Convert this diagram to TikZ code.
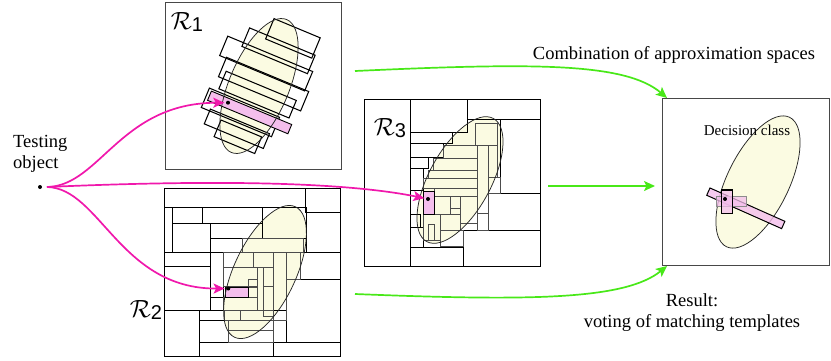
\documentclass[tikz,border=0pt]{standalone}
\usepackage{fontspec}
\setmainfont{Liberation Serif}
\newfontfamily\serif{Liberation Serif}
\newfontfamily\arialfam{Liberation Sans}
\usetikzlibrary{arrows.meta}
\definecolor{ylw}{RGB}{251,251,226}
\definecolor{pnk}{RGB}{244,190,236}
\definecolor{mag}{RGB}{240,24,172}
\definecolor{grn}{RGB}{72,232,24}
% calligraphic R with a sans-serif index
\newcommand\calR[1]{{\fontsize{31}{31}\selectfont$\mathcal{R}$}\raisebox{-2pt}{\fontsize{20}{20}\selectfont\arialfam #1}}

\begin{document}
\begin{tikzpicture}[x=1pt,y=-1pt,
  panel/.style={draw=black!72, line width=1pt, inner sep=0pt, anchor=north west},
  gridbox/.style={draw=black, line width=1.2pt, inner sep=0pt, anchor=north west},
  band/.style={draw=black, line width=1.05pt},
  cell/.style={draw=black, line width=1pt},
  incell/.style={draw=black!70, line width=0.7pt},
  ovaledge/.style={draw=black!85, line width=0.75pt},
  pinkbox/.style={fill=pnk, draw=black, line width=0.9pt},
  dot/.style={circle, fill=black, inner sep=0pt, minimum size=4pt},
  magarrow/.style={draw=mag, line width=1.7pt, shorten >=1.5pt,
    -{Stealth[length=11pt,width=10pt,inset=2.5pt]}},
  grnarrow/.style={draw=grn, line width=1.7pt,
    -{Stealth[length=11pt,width=10pt,inset=2.5pt]}},
  lbl/.style={font=\serif\fontsize{18.5}{21}\selectfont, inner sep=0pt},
]
\useasboundingbox (0,0) rectangle (831,360);

% ---------- space R1: rotated bands ----------
\node[panel, minimum width=176pt, minimum height=167pt] (R1) at (165,2) {};
\begin{scope}[shift={(259,86)}, rotate=-22.6, y=1pt]
  \fill[ylw] (0,0) ellipse [x radius=30, y radius=72];
  \foreach \ua/\va/\ub/\vb in {-12/46/38/68, -31/30/40/50, -48/13/44/34,
      -41/-7/48/14, -36/-18/40/1, -45/-42/31/-21, -36/-56/28/-40, -22/-64/22/-46}
    \draw[band] (\ua,\va) rectangle (\ub,\vb);
  \draw[pinkbox] (-42,-33) rectangle (45,-23);
  \draw[ovaledge] (0,0) ellipse [x radius=30, y radius=72];
\end{scope}
\node[dot] (d1) at (228,102.7) {};
\node[inner sep=0pt] (l1) at (187,22) {\calR{1}};

% ---------- space R2: axis-parallel partition ----------
\begin{scope}[shift={(265,272)}, rotate=-25, y=1pt]
  \fill[ylw] (0,0) ellipse [x radius=31, y radius=72];
\end{scope}
\foreach \xa/\ya/\xb/\yb in {164/188/305/207, 305/188/340/212, 164/207/172/252,
    172/207/202/223, 202/207/262/223, 262/207/306/238, 306/212/340/252,
    172/223/210/252, 210/223/262/238, 210/238/242/252, 164/252/210/266,
    164/266/210/310, 210/252/223/297, 210/297/223/310, 300/252/340/279,
    286/279/340/342, 164/310/199/356, 199/310/286/320, 199/320/228/342,
    199/342/273/356, 273/342/340/356}
  \draw[cell] (\xa,\ya) rectangle (\xb,\yb);
\foreach \xa/\ya/\xb/\yb in {242/238/303/252, 223/252/253/267, 253/252/273/267,
    273/252/286/320, 286/252/300/279, 223/267/257/286, 257/267/263/310,
    263/267/273/286, 263/286/273/316, 248/279/257/287, 223/297/257/310,
    224/310/240/320, 240/310/273/320, 228/320/273/330, 228/330/273/342}
  \draw[incell] (\xa,\ya) rectangle (\xb,\yb);
\draw[pinkbox] (225,287) rectangle (248,297);
\begin{scope}[shift={(265,272)}, rotate=-25, y=1pt]
  \draw[ovaledge] (0,0) ellipse [x radius=31, y radius=72];
\end{scope}
\node[gridbox, minimum width=176pt, minimum height=168pt] (R2) at (164,188) {};
\node[dot] (d2) at (228.3,288.5) {};
\node[inner sep=0pt] (l2) at (146,310) {\calR{2}};

% ---------- space R3: axis-parallel partition ----------
\begin{scope}[shift={(460,180)}, rotate=-28.4, y=1pt]
  \fill[ylw] (0,0) ellipse [x radius=31, y radius=70];
\end{scope}
\draw[cell] (410,99) -- (410,266);
\foreach \xa/\ya/\xb/\yb in {410/99/467/132, 467/99/540/119, 410/132/452/143,
    410/143/443/157, 410/157/428/168, 410/168/423/190, 410/214/420/227,
    410/227/423/247, 410/247/463/266, 463/230/540/266, 488/193/540/230,
    500/119/540/193}
  \draw[cell] (\xa,\ya) rectangle (\xb,\yb);
\foreach \xa/\ya/\xb/\yb in {475/123/497/145, 443/145/477/158, 433/158/477/170,
    428/170/477/178, 423/178/477/188, 434/188/477/196, 477/145/488/213,
    488/145/497/177, 488/177/500/193, 434/196/450/214, 450/196/460/208,
    460/196/477/223, 477/213/488/230, 423/214/440/240, 440/214/460/230,
    440/230/463/246, 428/224/434/240}
  \draw[incell] (\xa,\ya) rectangle (\xb,\yb);
\draw[pinkbox] (423,191) rectangle (434,214);
\begin{scope}[shift={(460,180)}, rotate=-28.4, y=1pt]
  \draw[ovaledge] (0,0) ellipse [x radius=31, y radius=70];
\end{scope}
\node[gridbox, minimum width=176pt, minimum height=167pt] (R3) at (364,99) {};
\node[dot] (d3) at (428,199) {};
\node[inner sep=0pt] (l3) at (390,128) {\calR{3}};

% ---------- combined result ----------
\node[panel, minimum width=167pt, minimum height=167pt] (res) at (662,98) {};
\begin{scope}[shift={(758,182)}, rotate=-26, y=1pt]
  \draw[ovaledge, fill=ylw] (0,0) ellipse [x radius=31, y radius=72];
\end{scope}
\node[font=\serif\fontsize{15}{18}\selectfont, inner sep=0pt] (dec) at (747,130) {Decision class};
\begin{scope}[shift={(745.8,208.3)}, rotate=-24, y=1pt]
  \draw[fill=pnk, fill opacity=0.8, draw=black, line width=1pt] (-41,-4) rectangle (41,4);
\end{scope}
\draw[fill=pnk, fill opacity=0.75, draw=black!45, line width=0.8pt] (716,196) rectangle (746.7,206);
\draw[fill=pnk, fill opacity=0.75, draw=black, line width=1.4pt] (721.7,190) rectangle (732.3,213.3);
\node[dot] (dr) at (725,199) {};

% ---------- testing object and its matches ----------
\node[dot] (obj) at (40,187) {};
\coordinate (src) at (47,187);
\node[lbl, align=left, anchor=west] (tobj) at (13,153.5) {Testing\\object};
\draw[magarrow] (src) .. controls (100,186) and (120,103) .. (d1);
\draw[magarrow] (src) .. controls (250,178) and (360,185) .. (d3);
\draw[magarrow] (src) .. controls (100,188) and (120,289) .. (d2);

% ---------- combination arrows ----------
\coordinate (g1) at (355,71);
\coordinate (g2) at (548,186);
\coordinate (g3) at (355,294);
\draw[grnarrow] (g1) .. controls (530,63) and (625,62) .. ([xshift=5pt]res.north west);
\draw[grnarrow, shorten >=7pt] (g2) -- (g2 -| res.west);
\draw[grnarrow] (g3) .. controls (530,301) and (625,300) .. ([xshift=5pt]res.south west);

\node[lbl] (comb) at (674,55) {Combination of approximation spaces};
\node[lbl, align=center] (vote) at (692,313) {Result:\\voting of matching templates};
\end{tikzpicture}
\end{document}
